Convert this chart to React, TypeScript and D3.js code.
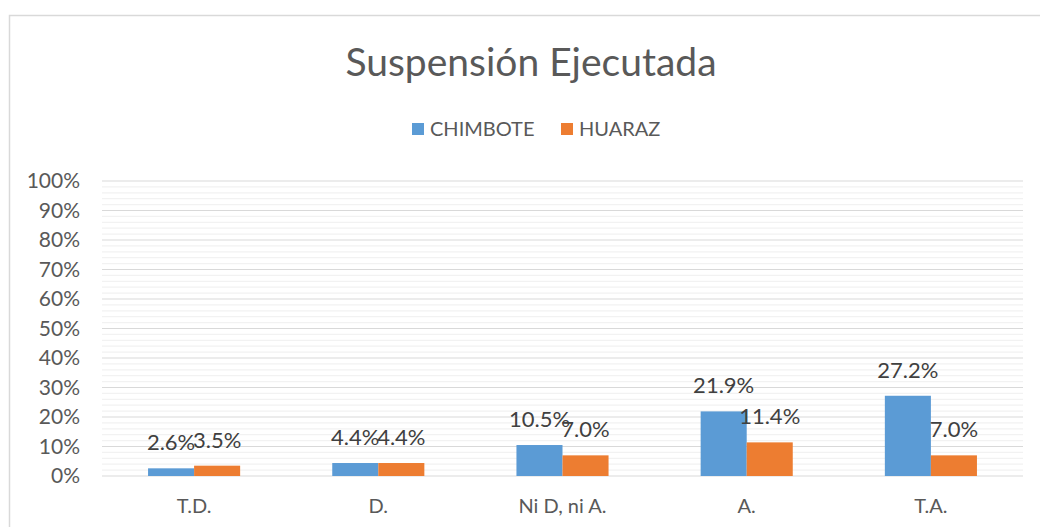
import { useEffect, useRef } from "react";
import * as d3 from "d3";

const categories = ["T.D.", "D.", "Ni D, ni A.", "A.", "T.A."];
const seriesNames = ["CHIMBOTE", "HUARAZ"];
const chimbote = [2.6, 4.4, 10.5, 21.9, 27.2];
const huaraz = [3.5, 4.4, 7.0, 11.4, 7.0];
const colors = ["#5B9BD5", "#ED7D31"];
const yTicks = [0, 10, 20, 30, 40, 50, 60, 70, 80, 90, 100];

export default function App() {
  const svgRef = useRef<SVGSVGElement>(null);
  const width = 1040;
  const height = 527;

  useEffect(() => {
    const svg = d3.select(svgRef.current);
    svg.selectAll("*").remove();

    const font = "Lato, 'Open Sans', sans-serif";
    const textColor = "#595959";
    const margin = { top: 181, right: 17, bottom: 51, left: 102 };
    const plotW = width - margin.left - margin.right;
    const plotH = height - margin.top - margin.bottom;

    // chart frame
    svg.append("rect")
      .attr("x", 9.5).attr("y", 15.5)
      .attr("width", width + 10).attr("height", height + 10)
      .attr("fill", "white").attr("stroke", "#d9d9d9").attr("stroke-width", 1.5);

    svg.append("text")
      .attr("x", 531).attr("y", 76)
      .attr("text-anchor", "middle")
      .style("font-family", font).style("font-size", "39px")
      .attr("fill", textColor)
      .text("Suspensión Ejecutada");

    // legend
    const legendX = [412, 561];
    seriesNames.forEach((name, i) => {
      svg.append("rect")
        .attr("x", legendX[i]).attr("y", 123)
        .attr("width", 12).attr("height", 12)
        .attr("fill", colors[i]);
      svg.append("text")
        .attr("x", legendX[i] + 18).attr("y", 136)
        .style("font-family", font).style("font-size", "20px")
        .attr("fill", textColor)
        .text(name);
    });

    const g = svg.append("g").attr("transform", `translate(${margin.left},${margin.top})`);

    const y = d3.scaleLinear().domain([0, 100]).range([plotH, 0]);
    const x0 = d3.scaleBand().domain(categories).range([0, plotW]).paddingInner(0).paddingOuter(0);
    const x1 = d3.scaleBand().domain(seriesNames).range([0, x0.bandwidth()]).paddingInner(0).paddingOuter(1);

    // minor gridlines
    const minor = d3.range(0, 100, 2).filter((v) => v % 10 !== 0);
    g.selectAll(".minor").data(minor).enter().append("line")
      .attr("x1", 0).attr("x2", plotW)
      .attr("y1", (d) => y(d)).attr("y2", (d) => y(d))
      .attr("stroke", "#f2f2f2").attr("stroke-width", 1.2);

    g.selectAll(".major").data(yTicks).enter().append("line")
      .attr("x1", 0).attr("x2", plotW)
      .attr("y1", (d) => y(d)).attr("y2", (d) => y(d))
      .attr("stroke", "#d9d9d9").attr("stroke-width", 1.2);

    g.selectAll(".ytick").data(yTicks).enter().append("text")
      .attr("x", -22).attr("y", (d) => y(d) + 7)
      .attr("text-anchor", "end")
      .style("font-family", font).style("font-size", "21px")
      .attr("fill", textColor)
      .text((d) => d + "%");

    const rows = categories.map((c, i) => ({ cat: c, vals: [chimbote[i], huaraz[i]] }));

    const groups = g.selectAll(".cat").data(rows).enter().append("g")
      .attr("transform", (d) => `translate(${x0(d.cat)},0)`);

    groups.selectAll("rect").data((d) => d.vals.map((v, i) => ({ v, s: seriesNames[i], i })))
      .enter().append("rect")
      .attr("x", (d) => x1(d.s)!)
      .attr("y", (d) => y(d.v))
      .attr("width", x1.bandwidth())
      .attr("height", (d) => plotH - y(d.v))
      .attr("fill", (d) => colors[d.i]);

    groups.selectAll("text.lbl").data((d) => d.vals.map((v, i) => ({ v, s: seriesNames[i], i })))
      .enter().append("text")
      .attr("class", "lbl")
      .attr("x", (d) => x1(d.s)! + x1.bandwidth() / 2)
      .attr("y", (d) => y(d.v) - 18)
      .attr("text-anchor", "middle")
      .style("font-family", font).style("font-size", "22px")
      .attr("fill", "#404040")
      .text((d) => d.v.toFixed(1) + "%");

    g.selectAll(".xlabel").data(categories).enter().append("text")
      .attr("x", (d) => x0(d)! + x0.bandwidth() / 2)
      .attr("y", plotH + 37)
      .attr("text-anchor", "middle")
      .style("font-family", font).style("font-size", "20px")
      .attr("fill", textColor)
      .text((d) => d);
  }, []);

  return (
    <svg
      ref={svgRef}
      width={width}
      height={height}
      style={{ position: "absolute", left: 0, top: 0, background: "white" }}
    />
  );
}
